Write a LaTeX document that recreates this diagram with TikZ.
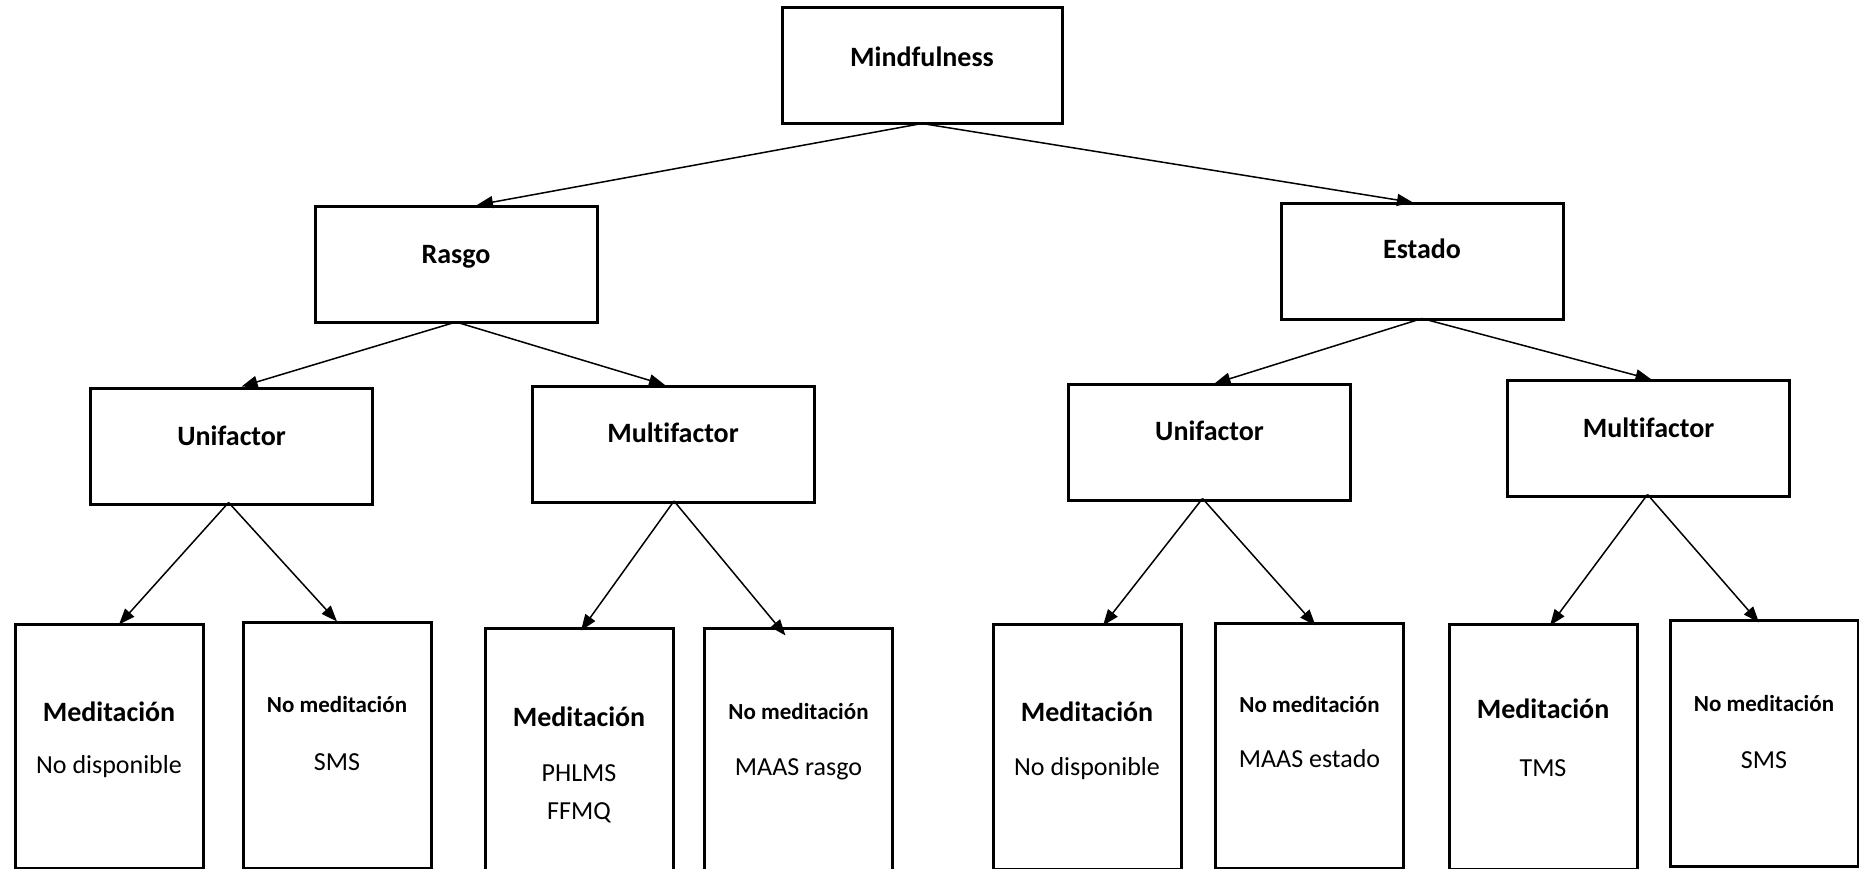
\documentclass[tikz,border=0pt]{standalone}
\usepackage{fontspec}
\setmainfont[Ligatures=NoCommon]{Carlito}
\usetikzlibrary{arrows.meta}
\tikzset{
  box/.style={draw, line width=3pt, inner sep=0pt},
  midbox/.style={box, minimum width=282pt, minimum height=116pt},
  leafbox/.style={box, minimum width=188pt, minimum height=245pt},
  title/.style={font=\fontsize{28}{32}\selectfont\bfseries, inner sep=0pt},
  subtitle/.style={font=\fontsize{23}{27}\selectfont\bfseries, inner sep=0pt},
  entry/.style={font=\fontsize{26}{38}\selectfont, inner sep=0pt, align=center},
  link/.style={line width=1.5pt, -{Triangle[length=16pt,width=12pt]}},
}
\begin{document}
\begin{tikzpicture}[x=1pt,y=-1pt]
\useasboundingbox (0,0) rectangle (1859,869);

% level 1
\node[box, minimum width=280pt, minimum height=116pt] (mind) at (922,66) {};
\node[title] (tmind) at (922,57) {Mindfulness};

% level 2
\node[midbox] (rasgo) at (456,264.5) {};
\node[title] (trasgo) at (456,257) {Rasgo};
\node[midbox] (estado) at (1422,261) {};
\node[title] (testado) at (1422,249) {Estado};

% level 3
\node[midbox] (uL) at (231.6,446) {};
\node[title] (tuL) at (231.6,436) {Unifactor};
\node[midbox] (mL) at (673,444.5) {};
\node[title] (tmL) at (673,433) {Multifactor};
\node[midbox] (uR) at (1209.5,442) {};
\node[title] (tuR) at (1209.5,431) {Unifactor};
\node[midbox] (mR) at (1648.5,438) {};
\node[title] (tmR) at (1648.5,428) {Multifactor};

% level 4, trait side
\node[leafbox, minimum height=244pt] (l1) at (109,746) {};
\node[title] (tl1a) at (109,712) {Meditación};
\node[entry] (tl1b) at (109,767) {No disponible};
\node[leafbox, minimum height=246pt] (l2) at (337,745) {};
\node[subtitle] (tl2a) at (337,705) {No meditación};
\node[entry] (tl2b) at (337,762) {SMS};
\node[leafbox, minimum height=250pt] (l3) at (579,753) {};
\node[title] (tl3a) at (579,717) {Meditación};
\node[entry] (tl3b) at (579,794) {PHLMS\\FFMQ};
\node[leafbox, minimum height=250pt] (l4) at (798.5,753) {};
\node[subtitle] (tl4a) at (798.5,712) {No meditación};
\node[entry] (tl4b) at (798.5,769) {MAAS rasgo};

% level 4, state side
\node[leafbox] (r1) at (1087,746.5) {};
\node[title] (tr1a) at (1087,712) {Meditación};
\node[entry] (tr1b) at (1087,769) {No disponible};
\node[leafbox] (r2) at (1309.5,745.5) {};
\node[subtitle] (tr2a) at (1309.5,705) {No meditación};
\node[entry] (tr2b) at (1309.5,759) {MAAS estado};
\node[leafbox] (r3) at (1543,746.5) {};
\node[title] (tr3a) at (1543,709) {Meditación};
\node[entry] (tr3b) at (1543,768) {TMS};
\node[leafbox, minimum height=246pt] (r4) at (1764,743) {};
\node[subtitle] (tr4a) at (1764,704) {No meditación};
\node[entry] (tr4b) at (1764,760) {SMS};

% connectors
\draw[link] ([yshift=2pt]mind.south) -- ([xshift=21pt]rasgo.north);
\draw[link] ([yshift=2pt]mind.south) -- ([xshift=-9pt,yshift=-1pt]estado.north);

\draw[link] ([yshift=2pt]rasgo.south) -- ([xshift=10pt]uL.north);
\draw[link] ([yshift=2pt]rasgo.south) -- ([xshift=-8pt]mL.north);
\draw[link] ([yshift=2pt]estado.south) -- ([xshift=5pt,yshift=-1pt]uR.north);
\draw[link] ([yshift=2pt]estado.south) -- ([xshift=3pt,yshift=-1pt]mR.north);

\draw[link] ([xshift=-3pt,yshift=3pt]uL.south) -- ([xshift=10pt,yshift=-2pt]l1.north);
\draw[link] ([xshift=-3pt,yshift=3pt]uL.south) -- ([xshift=0pt,yshift=-1pt]l2.north);
\draw[link] ([xshift=1pt,yshift=3pt]mL.south) -- ([xshift=2pt,yshift=-4pt]l3.north);
\draw[link] ([xshift=1pt,yshift=3pt]mL.south) -- ([xshift=-13pt,yshift=-9pt]l4.north);
\draw[link] ([xshift=-7pt,yshift=3pt]uR.south) -- ([xshift=16pt,yshift=-3pt]r1.north);
\draw[link] ([xshift=-7pt,yshift=3pt]uR.south) -- ([xshift=6pt,yshift=-4pt]r2.north);
\draw[link] ([xshift=-1pt,yshift=3pt]mR.south) -- ([xshift=7pt,yshift=-3pt]r3.north);
\draw[link] ([xshift=-1pt,yshift=3pt]mR.south) -- ([xshift=-5pt,yshift=-4pt]r4.north);
\end{tikzpicture}
\end{document}
